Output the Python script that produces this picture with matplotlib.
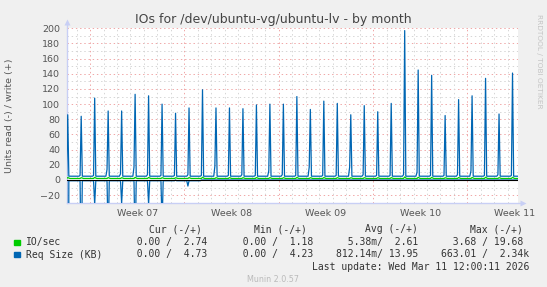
import numpy as np
import matplotlib.pyplot as plt
from matplotlib.patches import Rectangle

W, H = 547, 287

def fx(px):
    return px / W

def fy(py):
    return 1 - py / H

# Req Size (KB), write side: daily peak, and the small step just before it
req_peaks = [86, 84, 108, 91, 91, 113, 111, 100, 88, 95, 119, 95, 95, 94, 99, 100, 100,
             110, 93, 104, 101, 86, 98, 90, 101, 197, 145, 138, 85, 106, 111, 134, 87, 141]
req_bumps = [6, 6, 6, 14, 8, 17, 7, 6, 6, 7, 6, 18, 6, 7, 6, 12, 7,
             6, 17, 6, 6, 17, 7, 6, 6, 7, 10, 6, 6, 7, 12, 6, 7, 6]
req_base = 5.0
# Req Size read side (drawn negative), first days only
read_peaks = [-663, -120, -32, -80, -31, -90, -32, -60, 0, -8]
read_base = [-1, -1, -1, -1, -1, -1, -1, -1, -1, -1]
# IO/sec write side
io_peaks = [3.2, 3.0, 3.4, 3.1, 3.0, 3.5, 3.3, 3.0, 2.9, 3.1, 3.6, 3.0, 3.1, 3.0, 3.2, 3.1, 3.0,
            3.4, 3.0, 3.2, 3.1, 2.9, 3.0, 3.0, 3.1, 4.0, 3.5, 3.4, 2.9, 3.2, 3.3, 3.6, 3.0, 3.5]
io_base = 2.0

week_names = ["Week 07", "Week 08", "Week 09", "Week 10", "Week 11"]
first_week = 1.71      # day offset of first week boundary in the view
x_span = 33.46         # days shown

header = ["Cur (-/+)", "Min (-/+)", "Avg (-/+)", "Max (-/+)"]
io_vals = ["  0.00 /  2.74 ", "  0.00 /  1.18 ", "  5.38m/  2.61 ", "  3.68 / 19.68 "]
req_vals = ["  0.00 /  4.73 ", "  0.00 /  4.23 ", "812.14m/ 13.95 ", "663.01 /  2.34k"]

GREEN = "#00CC00"
BLUE = "#0066B3"

# build the 2-hour sample series from the read values
steps = 12
n = steps * len(req_peaks)
t = np.arange(n) / steps - 0.03
req_w = np.full(n, req_base)
io_w = np.full(n, io_base)
req_r = np.zeros(n)
for k, (p, b) in enumerate(zip(req_peaks, req_bumps)):
    req_w[steps * k] = b
    req_w[steps * k + 1] = p
    io_w[steps * k + 1] = io_peaks[k]
    io_w[steps * k + 2] = 2.6
for k, (p, b) in enumerate(zip(read_peaks, read_base)):
    req_r[steps * k:steps * (k + 1)] = b
    if k == 9:
        req_r[steps * k] = p
    else:
        req_r[steps * k + 1] = p

fig = plt.figure(figsize=(W / 100, H / 100), dpi=100)
fig.set_facecolor("#F0F0F0")
ax = fig.add_axes([fx(67), fy(202.75), 451 / W, (202.75 - 28.3) / H])
ax.set_facecolor("white")
ax.set_xlim(0, x_span)
ax.set_ylim(-30, 200)

dots = (0, (1.4, 2.8))
for y in range(-20, 201, 10):
    major = y % 20 == 0
    ax.axhline(y, color="#F0A8A8" if major else "#D6D6D6", lw=0.72, ls=dots, zorder=1)
d = first_week - 1
i = 0
while d < x_span:
    major = (i - 1) % 7 == 0
    ax.axvline(d, color="#F0A8A8" if major else "#D6D6D6", lw=0.72, ls=dots, zorder=1)
    d += 1
    i += 1

ax.plot(t, io_w, color=GREEN, lw=0.9, zorder=3)
ax.plot(t, req_w, color=BLUE, lw=0.9, zorder=4)
ax.plot(t, req_r, color=BLUE, lw=0.9, zorder=4)
ax.axhline(0, color="black", lw=0.8, zorder=5)

for s in ax.spines.values():
    s.set_visible(False)
axc = "#C8CFF5"
ax.plot([0, 0], [0, 1.025], color=axc, lw=1, transform=ax.transAxes, clip_on=False)
ax.plot([0, 1.006], [0, 0], color=axc, lw=1, transform=ax.transAxes, clip_on=False)
ax.plot([0], [1.035], marker="^", ms=4.5, color=axc, mec="none", transform=ax.transAxes, clip_on=False)
ax.plot([1.01], [0], marker=">", ms=4.5, color=axc, mec="none", transform=ax.transAxes, clip_on=False)

ax.set_yticks(range(-20, 201, 20))
centers = [first_week + 3.5 + 7 * k for k in range(len(week_names))]
ax.set_xticks(centers)
ax.set_xticklabels(week_names)
ax.tick_params(length=0, labelsize=6.8, labelcolor="#555555")
ax.tick_params(axis="y", pad=4.8)
ax.tick_params(axis="x", pad=4.2)

fig.text(fx(273.5), fy(19.5), "IOs for /dev/ubuntu-vg/ubuntu-lv - by month",
         ha="center", va="center", fontsize=9, color="#444444")
fig.text(fx(10), fy(116), "Units read (-) / write (+)", rotation=90,
         ha="center", va="center", fontsize=6.8, color="#555555")
fig.text(fx(539.5), fy(14), "RRDTOOL / TOBI OETIKER", rotation=270,
         ha="center", va="top", fontsize=5.3, color="#C4C4C4")

mono = dict(family="DejaVu Sans Mono", fontsize=7.0, color="#333333", va="center")
cw = 5.846
x0 = 26
for col, h in zip([21, 39, 58, 76], header):
    fig.text(fx(x0 + col * cw), fy(229), h, ha="left", **mono)
for row_y, name, vals, c in [(242.3, "IO/sec", io_vals, GREEN), (254.5, "Req Size (KB)", req_vals, BLUE)]:
    fig.add_artist(Rectangle((fx(14), fy(row_y + 2.8)), 5.6 / W, 5.6 / H,
                             transform=fig.transFigure, color=c))
    fig.text(fx(x0), fy(row_y), name, ha="left", **mono)
    for col, v in zip([17, 35, 53, 71], vals):
        fig.text(fx(x0 + col * cw), fy(row_y), v, ha="left", **mono)
fig.text(fx(311.5), fy(266.7), "Last update: Wed Mar 11 12:00:11 2026", ha="left", **mono)
fig.text(fx(272.6), fy(280), "Munin 2.0.57", ha="center", va="center",
         fontsize=5.8, color="#BBBBBB")

fig.savefig("out.png", dpi=100, facecolor=fig.get_facecolor())
